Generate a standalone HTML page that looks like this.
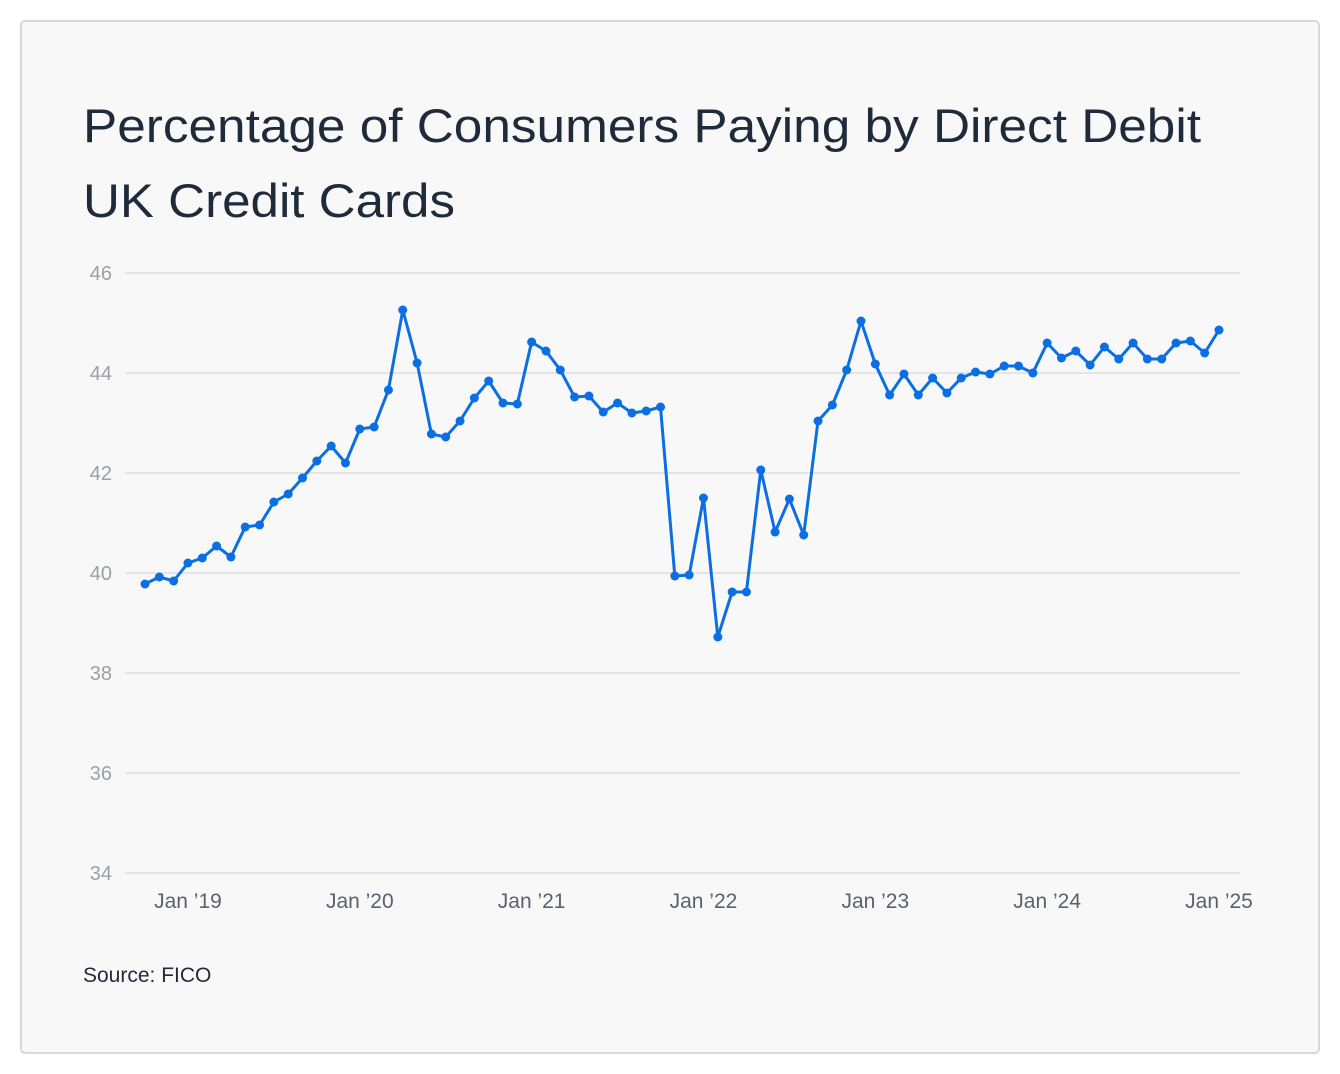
<!DOCTYPE html>
<html><head><meta charset="utf-8"><style>
html,body{margin:0;padding:0;background:#fff;}
svg{display:block;font-family:"Liberation Sans",sans-serif;}
</style></head><body>
<svg width="1340" height="1074" viewBox="0 0 1340 1074">
<rect x="21" y="21" width="1298" height="1032" rx="4" fill="#f8f8f9" stroke="#d8d8dc" stroke-width="2"/>
<text x="83" y="142" font-size="47" fill="#1f2b3b" textLength="1118" lengthAdjust="spacingAndGlyphs">Percentage of Consumers Paying by Direct Debit</text>
<text x="83" y="217" font-size="47" fill="#1f2b3b" textLength="372" lengthAdjust="spacingAndGlyphs">UK Credit Cards</text>
<g id="grid"></g>
<g id="xaxis"></g>
<g id="series"></g>
<text x="83" y="982" font-size="21" fill="#1f2b3b">Source: FICO</text>
</svg>
<script>
const yTicks = [34,36,38,40,42,44,46];
const xTickLabels = ["Jan \u201919","Jan \u201920","Jan \u201921","Jan \u201922","Jan \u201923","Jan \u201924","Jan \u201925"];
const xTickIndex = [3,15,27,39,51,63,75];
const values = [39.78,39.92,39.84,40.2,40.3,40.54,40.32,40.92,40.96,41.42,41.58,41.9,42.24,42.54,42.2,42.88,42.92,43.66,45.26,44.2,42.78,42.72,43.04,43.5,43.84,43.4,43.38,44.62,44.44,44.06,43.52,43.54,43.22,43.4,43.2,43.24,43.32,39.94,39.96,41.5,38.72,39.62,39.62,42.06,40.82,41.48,40.76,43.04,43.36,44.06,45.04,44.18,43.56,43.98,43.56,43.9,43.6,43.9,44.02,43.98,44.14,44.14,44.0,44.6,44.3,44.44,44.16,44.52,44.28,44.6,44.28,44.28,44.6,44.64,44.4,44.86];

const NS = "http://www.w3.org/2000/svg";
function yScale(v){ return 273 + (46 - v) * 50; }
function xScale(i){ return 145 + i * (1219 - 145) / 75; }

const grid = document.getElementById('grid');
yTicks.forEach(t => {
  const l = document.createElementNS(NS,'line');
  l.setAttribute('x1',125); l.setAttribute('x2',1240);
  l.setAttribute('y1',yScale(t)); l.setAttribute('y2',yScale(t));
  l.setAttribute('stroke','#dddde0'); l.setAttribute('stroke-width','1.5');
  
  
  grid.appendChild(l);
  const tx = document.createElementNS(NS,'text');
  tx.setAttribute('x',112); tx.setAttribute('y',yScale(t)+7);
  tx.setAttribute('text-anchor','end'); tx.setAttribute('font-size','20'); tx.setAttribute('fill','#9ba0a8');
  tx.textContent = t;
  
  
  grid.appendChild(tx);
});

const xa = document.getElementById('xaxis');
xTickLabels.forEach((lab,k) => {
  const tx = document.createElementNS(NS,'text');
  tx.setAttribute('x',xScale(xTickIndex[k])); tx.setAttribute('y',908);
  tx.setAttribute('text-anchor','middle'); tx.setAttribute('font-size','21'); tx.setAttribute('fill','#5a6270');
  tx.textContent = lab;
  
  
  xa.appendChild(tx);
});

const s = document.getElementById('series');
const path = document.createElementNS(NS,'polyline');
path.setAttribute('points', values.map((v,i)=>xScale(i).toFixed(1)+','+yScale(v).toFixed(1)).join(' '));
path.setAttribute('fill','none'); path.setAttribute('stroke','#0b6fe3'); path.setAttribute('stroke-width','3');
path.setAttribute('stroke-linejoin','round');


s.appendChild(path);
values.forEach((v,i) => {
  const c = document.createElementNS(NS,'circle');
  c.setAttribute('cx',xScale(i)); c.setAttribute('cy',yScale(v)); c.setAttribute('r',4.5);
  c.setAttribute('fill','#0b6fe3');
  
  
  s.appendChild(c);
});
</script>
</body></html>
